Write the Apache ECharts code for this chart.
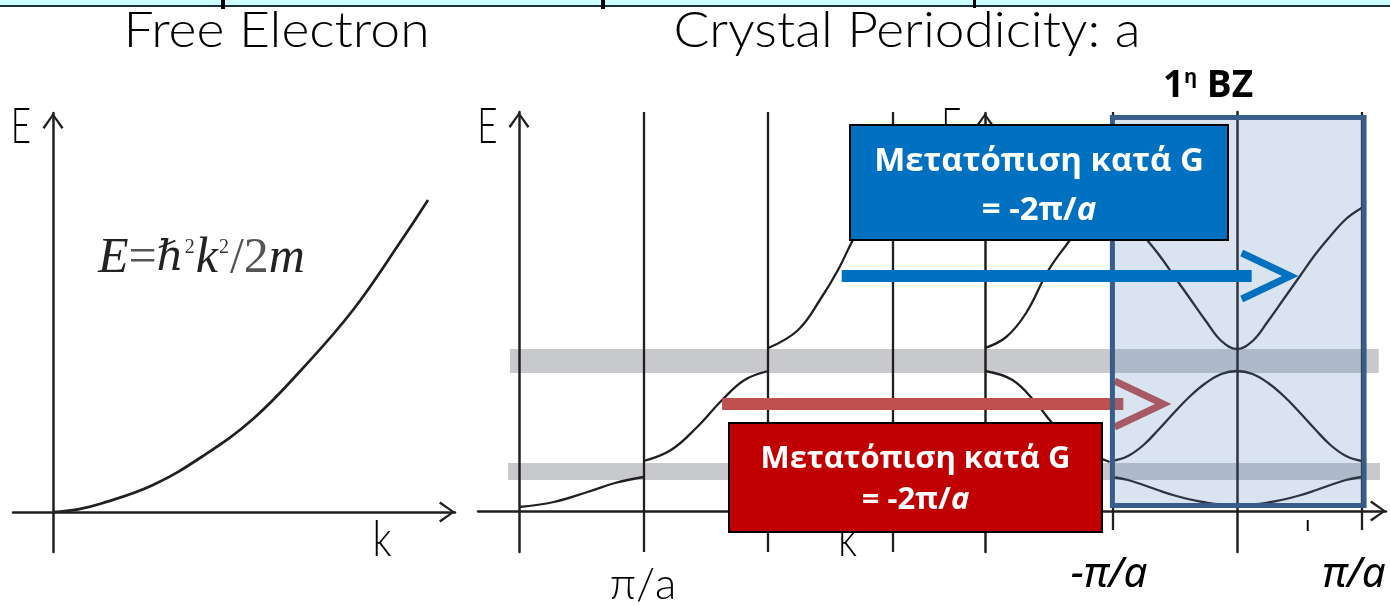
<!DOCTYPE html>
<html>
<head>
<meta charset="utf-8">
<script src="https://cdn.jsdelivr.net/npm/echarts@6/dist/echarts.min.js"></script>
<style>
html,body{margin:0;padding:0;background:#fff;}
#chart{width:1390px;height:606px;}
</style>
</head>
<body>
<div id="chart"></div>
<script>
// ---------------- DATA ----------------
// Free electron parabola (k in arbitrary units, E in arbitrary units)
const freeK = [0, 0.25, 0.5, 1.0, 1.5, 2.0, 2.5, 3.0, 3.5, 3.75];
const freeE = [0, 0.27, 0.9, 2.7, 5.6, 9.3, 14.4, 20.2, 27.4, 31.2];

// Extended zone scheme (k in units of π/a)
const extK1 = [0, 0.28, 0.55, 0.77, 1.0];
const extE1 = [0.4, 0.9, 1.9, 2.8, 3.4];
const extK2 = [1.0, 1.22, 1.43, 1.63, 1.81, 2.0];
const extE2 = [5.0, 6.1, 8.4, 11.1, 13.1, 14.0];
const extK3 = [2.0, 2.24, 2.43, 2.56, 2.68, 2.8];
const extE3 = [16.3, 18.1, 21.4, 24.1, 27.1, 29.6];

// Middle (partially hidden) plot
const midK2 = [0, 0.22, 0.41, 0.54, 0.75, 1.0];
const midE2 = [14.0, 13.1, 10.8, 8.8, 6.4, 4.9];
const midK3 = [0, 0.17, 0.33, 0.51, 0.67, 0.8];
const midE3 = [16.3, 17.4, 19.8, 24.1, 26.9, 29.2];

// Reduced zone scheme (1st BZ)
const redK  = [-1, -0.875, -0.75, -0.625, -0.5, -0.375, -0.25, -0.125, 0, 0.125, 0.25, 0.375, 0.5, 0.625, 0.75, 0.875, 1];
const redE1 = [3.4, 3.1, 2.6, 2.05, 1.55, 1.15, 0.85, 0.65, 0.6, 0.65, 0.85, 1.15, 1.55, 2.05, 2.6, 3.1, 3.4];
const redE2 = [5.0, 5.5, 6.6, 8.2, 9.9, 11.5, 12.8, 13.7, 14.0, 13.7, 12.8, 11.5, 9.9, 8.2, 6.6, 5.5, 5.0];
const redE3 = [30.3, 29.2, 27.5, 25.6, 23.4, 21.2, 19.0, 17.0, 16.2, 17.0, 19.0, 21.2, 23.4, 25.6, 27.5, 29.2, 30.3];

// Band gaps (E ranges)
const gapLow  = [3.1, 4.8];
const gapHigh = [13.8, 16.2];

// Zone boundaries
const extBoundaries = [1, 2, 3];
const bzEdges = [-1, 1];

// Shift arrows (k, E)
const blueShiftFromK = 2.59, blueShiftToK = 5.88, blueShiftE = 23.5;
const redShiftFromK = 1.63, redShiftToK = 4.85, redShiftE = 10.7;

// Texts
const titleLeft = 'Free Electron';
const titleRight = 'Crystal Periodicity: a';
const tickLabelExt = 'π/a';
const tickLabelBZLeft = '-π/a';
const tickLabelBZRight = 'π/a';
const shiftLine1 = 'Μετατόπιση κατά G';
const bzLabel = ['1', 'η', ' BZ'];

// ---------------- HELPERS ----------------
const zip = (a, b) => a.map((v, i) => [v, b[i]]);
const INK = '#231f20';
const arrowPath = 'path://M0,14.5 L10.5,0 L21,14.5 L19,16 L10.5,3.4 L2,16 Z';

function axis(gridIndex, min, max, showLine, arrow) {
  return {
    type: 'value', gridIndex, min, max, z: 3,
    axisLine: {
      show: showLine, onZero: true,
      symbol: arrow ? ['none', arrowPath] : 'none',
      symbolSize: [21, 16], symbolOffset: [0, -8],
      lineStyle: { color: INK, width: 2.5 }
    },
    axisTick: { show: false }, axisLabel: { show: false }, splitLine: { show: false }
  };
}
function curve(name, xi, k, e, z, color, width) {
  return {
    name, type: 'line', xAxisIndex: xi, yAxisIndex: xi, data: zip(k, e),
    smooth: 0.4, symbol: 'none', silent: true, z: z || 4,
    lineStyle: { color: color || INK, width: width || 2.3 }
  };
}
function vline(k, eTop, eBottom) {
  return [{ coord: [k, eTop] }, { coord: [k, eBottom] }];
}

const series = [];
series.push(curve('free', 0, freeK, freeE, 4, INK, 2.7));

const ext1 = curve('ext1', 1, extK1, extE1);
ext1.markArea = {
  silent: true, z: 1,
  itemStyle: { color: '#c8c9cd' },
  data: [
    [{ coord: [-0.088, gapLow[0]] }, { coord: [6.91, gapLow[1]] }],
    [{ coord: [-0.072, gapHigh[0]] }, { coord: [6.9, gapHigh[1]] }]
  ]
};
ext1.markLine = {
  silent: true, z: 3, symbol: ['none', 'none'], animation: false,
  label: { show: false },
  lineStyle: { color: INK, width: 2.3, type: 'solid' },
  data: extBoundaries.map(k => vline(k, 39.9, -4.1))
};
series.push(ext1);
series.push(curve('ext2', 1, extK2, extE2));
series.push(curve('ext3', 1, extK3, extE3));

series.push(curve('mid2', 2, midK2, midE2));
series.push(curve('mid3', 2, midK3, midE3));

const red1 = curve('red1', 3, redK, redE1);
red1.markLine = {
  silent: true, z: 3, symbol: ['none', 'none'], animation: false,
  label: { show: false },
  lineStyle: { color: INK, width: 2.3, type: 'solid' },
  data: bzEdges.map(k => vline(k, 39.9, -1.9))
};
red1.markArea = {
  silent: true, z: 6,
  itemStyle: { color: 'rgba(79,129,189,0.21)', borderColor: '#385d8a', borderWidth: 5 },
  data: [[{ coord: [bzEdges[0], 39.35] }, { coord: [bzEdges[1] + 0.02, 0.55] }]]
};
series.push(red1);
series.push(curve('red2', 3, redK, redE2));
series.push(curve('red3', 3, redK, redE3));

// shift arrows (in extended-zone coordinates)
function shaft(color, k0, k1, e, z) {
  return { type: 'line', xAxisIndex: 1, yAxisIndex: 1, data: [[k0, e], [k1, e]], symbol: 'none', silent: true, z,
    lineStyle: { color, width: 12, cap: 'butt' } };
}
function head(color, kTip, e, z) {
  return { type: 'line', xAxisIndex: 1, yAxisIndex: 1,
    data: [[kTip - 0.39, e + 2.3], [kTip, e], [kTip - 0.39, e - 2.3]],
    symbol: 'none', silent: true, z,
    lineStyle: { color, width: 7, cap: 'butt', join: 'miter' } };
}
series.push(shaft('#c0504d', redShiftFromK, redShiftToK, redShiftE, 5));
series.push(head('#c0504d', 5.17, redShiftE, 5));
series.push(shaft('#0070c0', blueShiftFromK, blueShiftToK, blueShiftE, 7));
series.push(head('#0070c0', 6.19, blueShiftE, 7));

// ---------------- GRAPHICS (labels / boxes) ----------------
const thin = (size) => ({ fontFamily: 'Lato', fontWeight: 300, fontSize: size });
function txt(x, y, text, style, z, sx) {
  return { type: 'text', x, y, scaleX: sx || 1, z: z || 10, silent: true,
    style: Object.assign({ text, fill: '#000', align: 'center', verticalAlign: 'middle' }, style) };
}
const boxFont = (size, italic) => ({ fontFamily: 'Open Sans', fontWeight: 'bold', fontStyle: italic ? 'italic' : 'normal', fontSize: size, fill: '#fff' });

const graphic = [
  { type: 'rect', shape: { x: 0, y: 0, width: 1390, height: 5 }, style: { fill: '#ccffff' }, z: 10, silent: true },
  { type: 'rect', shape: { x: 0, y: 5, width: 1390, height: 2 }, style: { fill: '#1c2f3f' }, z: 10, silent: true },
  { type: 'rect', shape: { x: 221, y: 0, width: 4, height: 9 }, style: { fill: '#000' }, z: 11, silent: true },
  { type: 'rect', shape: { x: 601, y: 0, width: 4, height: 9 }, style: { fill: '#000' }, z: 11, silent: true },
  { type: 'rect', shape: { x: 973, y: 0, width: 3, height: 8 }, style: { fill: '#000' }, z: 11, silent: true },

  txt(276.5, 31, titleLeft, thin(50), 10, 1.07),
  txt(907, 31, titleRight, thin(50), 10, 1.065),

  // formula
  { type: 'text', x: 98, y: 259, z: 10, silent: true,
    style: { text: '{i|E}{u|=}{h|ℏ}{s|2}{i|k}{s|2}{u|/2}{i|m}', align: 'left', verticalAlign: 'middle',
      rich: {
        i: { fontFamily: 'Liberation Serif', fontStyle: 'italic', fontSize: 50, fill: '#222' },
        h: { fontFamily: 'DejaVu Serif', fontStyle: 'italic', fontSize: 42, fill: '#222' },
        u: { fontFamily: 'Liberation Serif', fontSize: 50, fill: '#555' },
        s: { fontFamily: 'Liberation Serif', fontSize: 20, fill: '#333', verticalAlign: 'top', padding: [4, 1, 0, 1] }
      } } },

  // axis letters
  txt(21, 127, 'E', thin(50), 10, 0.7),
  txt(487.5, 127, 'E', thin(50), 10, 0.7),
  txt(951.5, 127, 'E', thin(50), 9, 0.7),
  txt(382, 540, 'k', thin(50), 10, 0.8),
  txt(847.5, 540, 'k', thin(50), 9, 0.8),
  txt(1313, 540, 'k', thin(50), 8, 0.8),
  { type: 'rect', shape: { x: 1290, y: 531, width: 50, height: 26 }, style: { fill: '#fff' }, z: 9, silent: true },

  // tick labels
  txt(643, 585, tickLabelExt, thin(44)),
  txt(1109, 575, tickLabelBZLeft, { fontFamily: 'Noto Sans', fontStyle: 'italic', fontSize: 42 }),
  txt(1354, 575, tickLabelBZRight, { fontFamily: 'Noto Sans', fontStyle: 'italic', fontSize: 42 }),

  // 1st BZ label
  { type: 'text', x: 1208, y: 86, z: 10, silent: true,
    style: { text: '{b|' + bzLabel[0] + '}{s|' + bzLabel[1] + '}{b|' + bzLabel[2] + '}', align: 'center', verticalAlign: 'middle',
      rich: {
        b: { fontFamily: 'Open Sans', fontWeight: 'bold', fontSize: 37, fill: '#000' },
        s: { fontFamily: 'Open Sans', fontWeight: 'bold', fontSize: 20, fill: '#000', verticalAlign: 'top' }
      } } },

  // blue box
  { type: 'rect', shape: { x: 850, y: 125, width: 378, height: 115 }, style: { fill: '#0070c0', stroke: '#000', lineWidth: 2 }, z: 20, silent: true },
  txt(1039, 162, shiftLine1, boxFont(33), 21),
  { type: 'text', x: 1039, y: 211, z: 21, silent: true,
    style: { text: '{n|= -2π/}{i|a}', align: 'center', verticalAlign: 'middle',
      rich: { n: boxFont(33), i: boxFont(33, true) } } },

  // red box
  { type: 'rect', shape: { x: 729, y: 423, width: 373, height: 109 }, style: { fill: '#c00000', stroke: '#000', lineWidth: 2 }, z: 20, silent: true },
  txt(915.5, 459, shiftLine1, boxFont(31), 21),
  { type: 'text', x: 915.5, y: 500, z: 21, silent: true,
    style: { text: '{n|= -2π/}{i|a}', align: 'center', verticalAlign: 'middle',
      rich: { n: boxFont(31), i: boxFont(31, true) } } }
];

const chart = echarts.init(document.getElementById('chart'), null, { renderer: 'canvas' });
chart.setOption({
  animation: false,
  backgroundColor: '#fff',
  grid: [
    { left: 13, top: 113, width: 442, height: 439 },
    { left: 478, top: 112, width: 908, height: 440 },
    { left: 900, top: 113, width: 210, height: 439 },
    { left: 1100, top: 112, width: 290, height: 440 }
  ],
  xAxis: [
    axis(0, -0.4, 4.02, true, true),
    axis(1, -0.329, 6.958, true, true),
    axis(2, -0.682, 1.003, false, false),
    axis(3, -1.0995, 1.228, false, false)
  ],
  yAxis: [
    axis(0, -4.0, 39.9, true, true),
    axis(1, -4.1, 39.9, true, true),
    axis(2, -4.1, 39.8, true, true),
    axis(3, -4.1, 39.9, true, false)
  ],
  series,
  graphic
});
</script>
</body>
</html>
